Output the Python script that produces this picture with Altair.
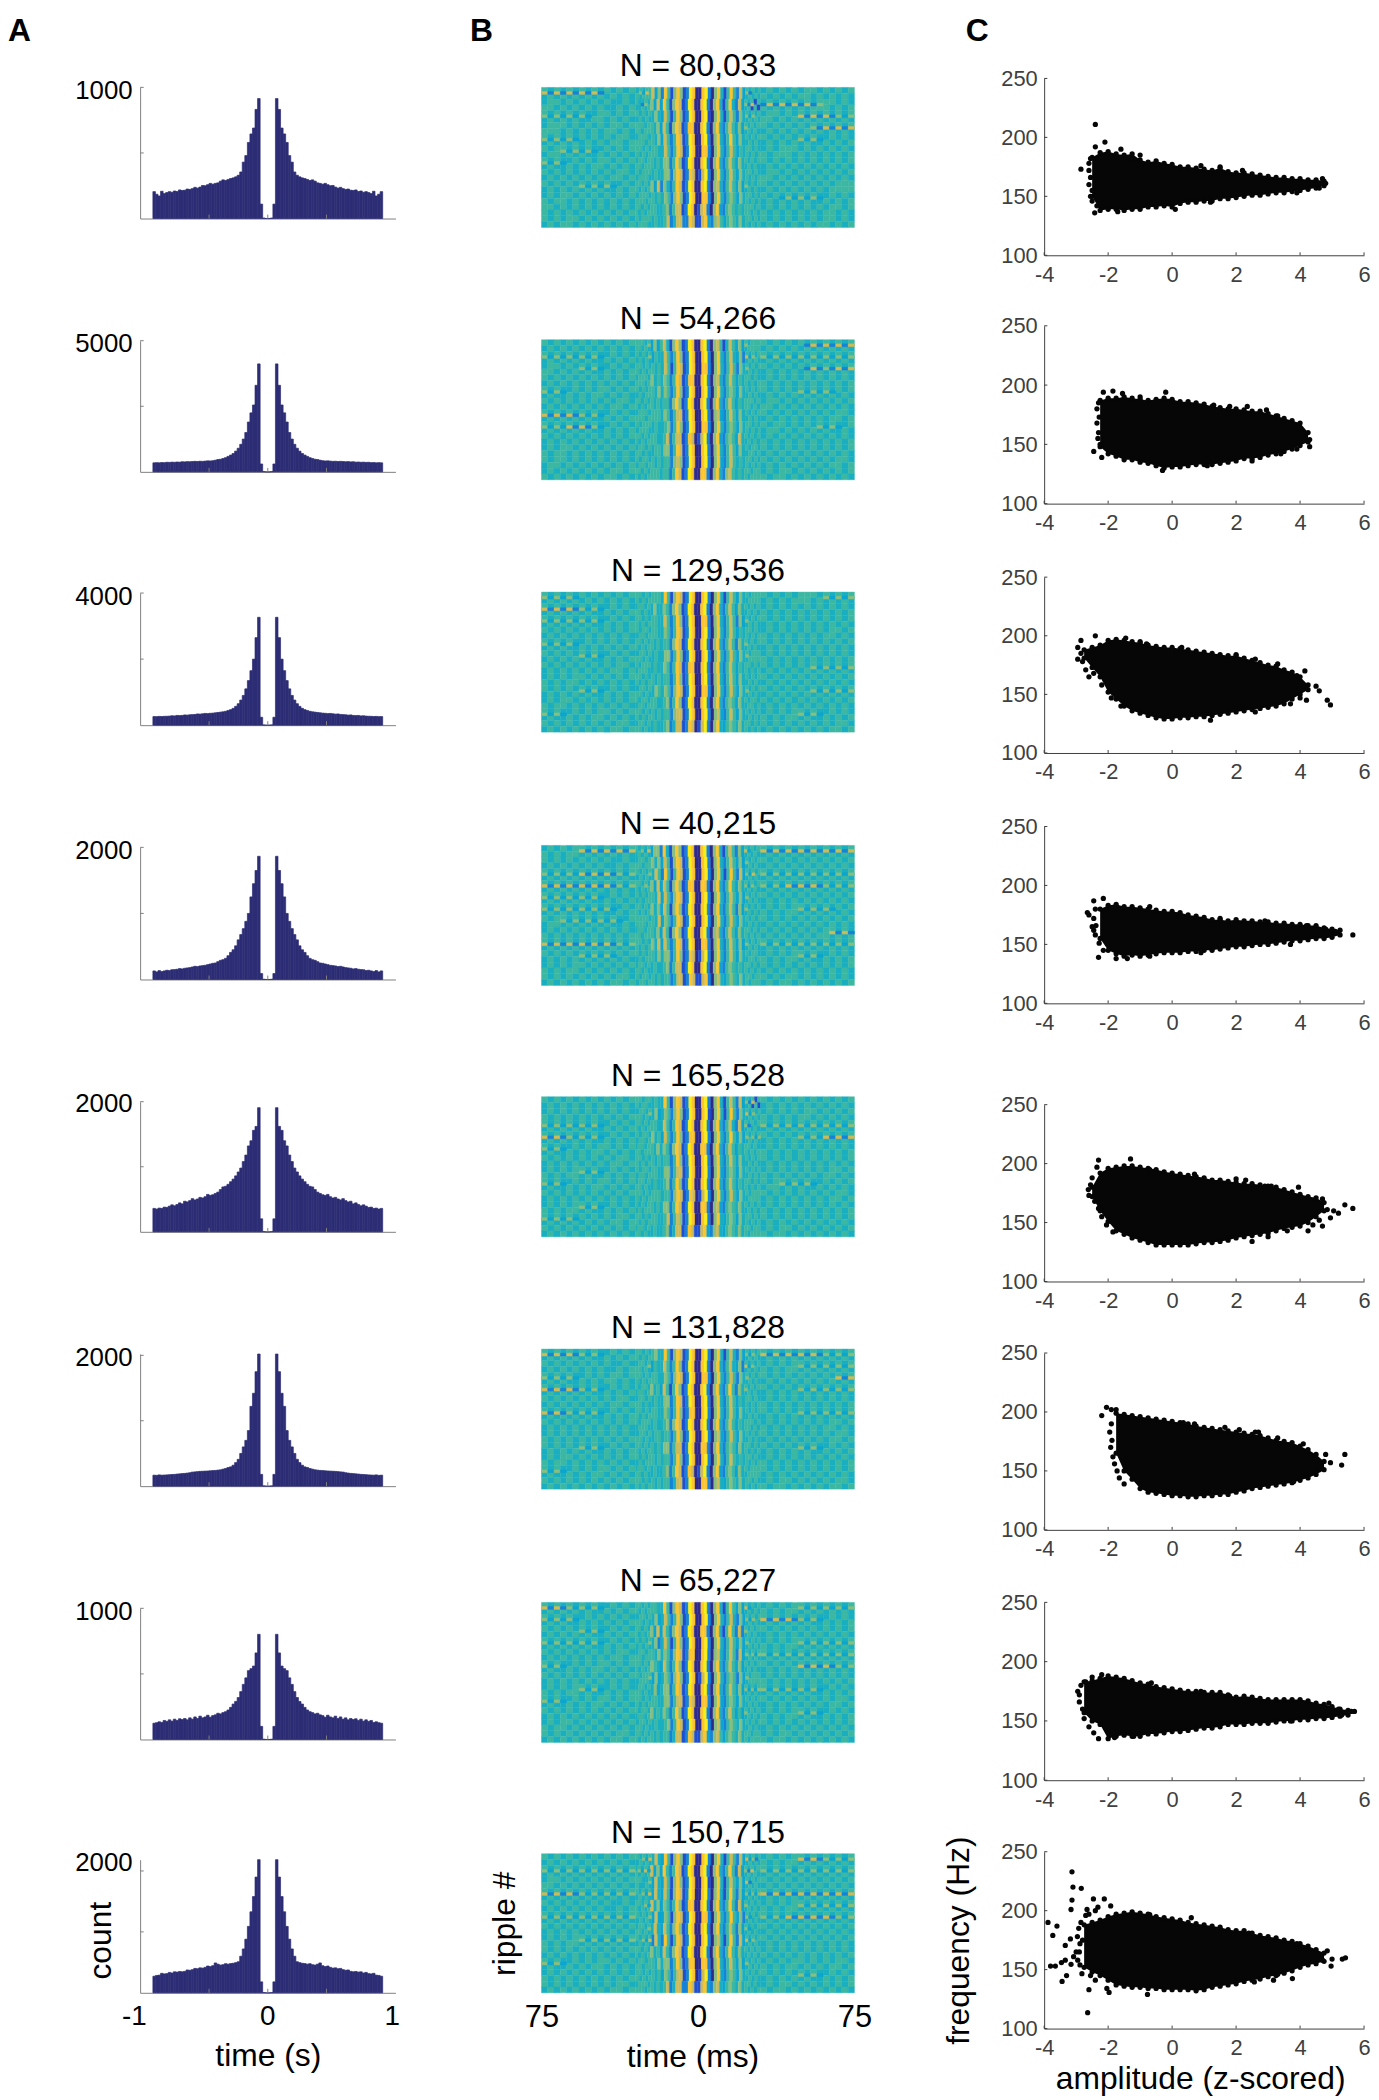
import altair as alt
import pandas as pd

FONT = "Liberation Sans"
ROW_START = [79, 326, 577, 826, 1096, 1348, 1601, 1851]
ROW_FIX = [2, 2, 2, 2, 2, 2, 1]

# ---------- A: spike autocorrelograms (half profile, outward from 0; bins 0.02 s) ----------
A_TOP = [88, 341, 593, 847, 1101, 1353, 1607, 1859]
A_BASE = [220, 473, 726, 980, 1232, 1486, 1739, 1993]
A_TICK = [1000, 5000, 4000, 2000, 2000, 2000, 1000, 2000]
A_DOM = [1000, 5000, 4000, 2000, 2000, 2020, 1000, 2185]
A_LABEL_OFF = [3, 3, 4, 3, 2, 2, 3, -8]
H1 = [0,4,110,915,832, 690,645,580,480,430, 355,330,318,310,305, 298,290,295,285,272, 268,262,268,258,250, 252,240,232,238,228, 222,225,216,214,218, 206,210,200,205,198, 190,208,172,185,205]
H2 = [0,10,300,4116,3300, 2550,2250,1900,1500,1250, 1050,900,790,700,640, 590,540,510,480,470, 445,425,415,420,410, 400,405,395,400,395, 385,390,380,385,370, 375,365,370,360,365, 350,355,345,350,345]
H3 = [0,8,240,3266,2650, 2000,1650,1350,1100,900, 760,650,570,510,470, 445,420,405,395,385, 375,365,360,350,355, 345,335,340,325,320, 315,305,310,295,290, 295,280,285,275,270, 268,262,266,258,261]
H4 = [0,4,90,1865,1650, 1450,1250,1000,880,770, 680,600,510,450,410, 360,320,300,290,270, 250,245,235,225,215, 210,205,195,200,190, 180,175,170,160,165, 155,150,148,135,140, 130,120,135,115,130]
H5 = [0,4,200,1908,1620, 1560,1400,1320,1180,1080, 980,920,860,810,770, 730,700,690,650,610, 590,570,560,575,540, 520,530,505,490,510, 480,460,470,430,445, 420,400,415,395,375, 380,360,365,350,360]
H6 = [0,4,180,2020,1750, 1420,1220,850,700,600, 500,410,360,320,295, 285,270,260,250,245, 240,238,235,232,230, 228,226,222,218,215, 205,200,195,192,188, 185,180,178,175,172, 170,168,172,165,168]
H7 = [0,2,100,802,660, 560,540,525,470,420, 365,320,290,270,245, 225,212,205,195,200, 188,182,170,185,172, 165,178,160,172,155, 165,150,160,152,158, 145,155,140,150,138, 145,130,135,128,124]
H8 = [0,4,180,2185,1900, 1580,1330,1090,880,720, 600,510,495,485,480, 470,478,462,455,470, 490,445,430,440,418, 405,410,395,400,380, 370,375,352,345,350, 340,345,325,335,315, 310,320,290,285,272]
HISTS = [H1, H2, H3, H4, H5, H6, H7, H8]
A_XTICKS = [-0.46, 0, 0.46]
A_XLABEL_POS = [-1.045, 0, 0.975]
A_XLABELS = ["-1", "0", "1"]

# ---------- B: ripple-triggered LFP, digits 0..9 are colour levels ----------
B_TOP = [88, 340, 592, 845, 1096, 1348, 1601, 1853]
B_BOT = [229, 481, 733, 986, 1237, 1489, 1742, 1993]
B_N = ["N = 80,033", "N = 54,266", "N = 129,536", "N = 40,215", "N = 165,528", "N = 131,828", "N = 65,227", "N = 150,715"]
P1 = ["727272727254545|46375736285168612980|08920684158527362545|454545455454545",
"455454545454454|54264637385168712980|08920684158427362715|272727272655454",
"636363634554545|54545464375158612980|08910684157526463645|455454727272636",
"455545454545545|55545546375168712880|08920684257536364545|545454546272727",
"636363545454554|45554546375258712980|08920684258536454545|545454636345454",
"545636363454545|55454554475258712980|08820684257535455454|454555454545454",
"636345454554545|45545545466258612980|08920684257536454545|545454545454545",
"545454545454554|54555454466268712870|17920684257536455454|455454545454545",
"545454636363454|55454637264258712980|08920674257536364545|545454545454555",
"454554545454545|45554545465268612980|08820684256536455454|545363636345454",
"554545454545454|55454554456257712980|17820683256545455545|454545454545545",
"545455454545454|54555454457247722871|17832675356546455454|545454545455454"]
P2 = ["545454545454545|55546363574168612980|08920675147536364555|545454527272727",
"636363636345454|54546354475258612980|08920684257436273645|636363636363636",
"455454636345454|55454545475158712980|08820684257526464545|545454527262727",
"545454545454545|45554645465258712880|08920674257535455454|454545454545454",
"636345454554545|54545546465258612980|08920684256536454545|545454636363545",
"545454545454554|55454545455268612980|08920684257535455545|455454545454545",
"727272636345454|45554555465257712980|08920673257536454545|545454545454554",
"636372726345454|54555454456258612980|08820684256536455454|545545454636345",
"545454545454545|55454554457257712870|17920683256537454545|454545454545454",
"454554545454545|45545455466258712980|08920684257536454554|545454545454545",
"545545454545454|54554545455267612980|08920683257545455454|545454545454554",
"454545454545545|55454555455258712980|08820684267545455455|454554545454545"]
P3 = ["636363545454545|55454555485168712980|08920684157536454555|545454555463636",
"727272636345454|45545464465268612980|08920684257536454545|454545454545454",
"636363636345454|55454554475258612980|08820684257526364545|545454545454545",
"545454545454545|54554554465258712980|08920684257535455454|454545454545545",
"636363454545454|55454545455268712980|08920684257526464545|545454545454545",
"545454636345454|45545454466258612980|08920684257536464555|454545454545454",
"545454545454554|54555454465258712880|08920684257535455454|545454546363636",
"454545545454545|55454545455258612980|08920684257536454545|545454545454545",
"545454636345454|45545465465268712980|08820684257536464545|545454546363636",
"454554545454545|54554554456258612980|08920684256536454554|545454545454545",
"636345454554545|55454545455267712980|08920673257536454545|454545636345454",
"545454545454554|45545454456247712870|17920684356546455454|545454545454554"]
P4 = ["454545727272727|54637366284168612980|08920684157526373545|727272727272727",
"545454545454454|45545646375168712980|08920684257536364545|545454545454545",
"636363727272636|54546475285158712980|08920684158527363745|636363636363636",
"727272727272636|55464637375168612880|08820684258536463645|636372727263636",
"636363636345454|54545547375268712980|08920684257536364545|545454545454545",
"636363636363454|55454646375168612980|08920684257526364545|454545636363545",
"545636363636345|55554547365258712980|08920684257536454545|545454545454545",
"454545454545454|45545546375168612980|08920674257536455454|545454545457272",
"727272727272636|55454647375258712980|08820684257536364545|636363636363636",
"545454636363545|54545546466258612870|17920684257536454554|454545636345454",
"454545545454545|45545454456257712980|08920683256545455454|545454545454545",
"545454545454554|54554545455247712871|17820674356546455455|545455454545454"]
P5 = ["545454545454545|55455454485168712980|08920684157527362715|545454545454545",
"454545454545454|45546463465268612980|08910684158526473645|454545455454545",
"636363636345454|55454554475258712980|08920684257427362545|636363636363636",
"727263636345454|54554645375258612880|08920684258536364636|545454636372727",
"636345454554545|45545546465268712980|08820684257535455454|454545454545454",
"545454545454554|55454545455258612980|08920684257536454545|545454545454545",
"454545636345454|54554554466257712980|08920683256536454545|454545454545545",
"636345454554545|45545454456258612980|08920684257535455454|545636363454545",
"545454545454545|55454555455268712870|17920684257536454555|545454545454554",
"454545636345454|54545545466258712980|08820673256546454545|454545454545454",
"636363545454554|55454554457257612980|08920684356536455454|545454545454545",
"545454545454545|45545454456247712871|17832674356546455455|454554545454545"]
P6 = ["727272636345454|55454564485168712980|08920684157426363645|727272727263636",
"545454545454454|45546354475258612980|08920684257436273645|454545636363636",
"636363454545545|55454554465268712980|08820684257526464545|545454545454727",
"727272636345454|54554645375158612980|08920684258526464545|545454636363636",
"545454545454554|45545454466258712980|08920684257535455454|454545454545454",
"727263636345454|55454554465258612880|08920684257536454545|545454636363636",
"545454545454545|54555454456268712980|08920684257535455545|454545454545545",
"454545454545454|45545455455258612980|08920673257536454545|545454545454554",
"545454636345454|55454545466257712980|08820684256536455454|545454636345454",
"454554545454545|54545545455258612980|08920684257545455454|454545454545454",
"636345454554545|45545454456258712870|17920683256536454555|545454545454545",
"545454545454545|55454545455247712980|08820674356546455454|454554545454554"]
P7 = ["727263636345454|55454554485168712980|08920684158536373545|454545636363636",
"636363454545454|45545463475258612980|08920684257426363645|727272636345454",
"545454636345454|55454637375268712980|08820684158527264545|545454545454545",
"636363636345454|54546462475158612980|08920684257536364545|454545636363636",
"545454545454554|45545546465268712880|08920674257527364636|636363636363636",
"636345454554545|55454654375258612980|08920684257536354545|545454727272636",
"545454545454545|54556363465268612980|17920684256526364555|454545454545454",
"454545636345454|45545463466258712980|08920684257536363636|636363636345454",
"636345454554545|55454554466257712870|08820683256536454545|545454545454554",
"545454545454545|54554645465258612980|08920684257535364545|454545636345454",
"454554545454545|45545454456258712980|08920673256546454545|545454545454545",
"545454545454554|55454545455247712871|17832675356546455455|454554545454545"]
P8 = ["545454545454545|54637474385168612980|08920684157527373625|454545727263636",
"636363636363636|46373736385258712980|08920684258527362745|636363636363636",
"455454545454545|55446374375168612980|08910684157536372545|545454545454545",
"727272636363636|54637374375168712980|08920684158526363636|727272727272727",
"545454545454454|55463746365258612880|08920684258527364545|454545636363636",
"636363636363636|54546373365168712980|08820684258536263545|636372727272636",
"545454545454545|45546474375268612980|08920684257526363545|545454545454545",
"454545636363636|54637274285158712980|08920674158527373645|545454545454545",
"545454545454545|55454645375268712980|08920684258536454545|454545454545454",
"636345454554545|45545546466258612880|08820684257536364545|454545545454554",
"454545454545454|55454545365257712980|17920683256536454545|545454636345454",
"545454545454554|45554545457247722871|17832674356546455454|454554545454545"]
PANELS = [P1, P2, P3, P4, P5, P6, P7, P8]
WOBBLE = [[.3,-.2,.2,-.3,.1,.3,-.2,.2,-.1,.3,-.3,.1],
 [-.2,.2,.3,-.1,.2,-.3,.1,.3,-.2,.1,.2,-.3],
 [.2,-.3,.1,.2,-.2,.3,-.1,.1,.3,-.2,.2,-.1],
 [-.3,.1,.3,-.2,.2,-.1,.3,-.3,.1,.2,-.2,.3],
 [.1,.3,-.2,.2,-.3,.1,.2,-.1,.3,-.2,.1,-.3],
 [.2,-.1,.3,-.3,.1,.2,-.2,.3,-.1,.2,-.3,.1],
 [-.1,.3,-.3,.2,.1,-.2,.3,-.1,.2,-.3,.3,-.2],
 [.3,-.3,.2,.1,-.2,.3,-.1,.2,-.3,.1,.3,-.2]]
SEG_EDGES = [-75, -30, 0, 30, 75]
LEVELS = list("0123456789")
PARULA = ["#2e2a8c", "#1f4fd0", "#1583d8", "#0aa5d0", "#1aafc0", "#3cb8a2", "#86bf80", "#cdbb5a", "#fcc52e", "#f9ee12"]
FLANK_BASE = {"2": "4", "3": "4", "6": "5", "7": "5"}

# ---------- C: frequency vs amplitude ----------
C_TOP = [79, 326, 577, 826, 1104, 1352, 1601, 1851]
C_BOT = [257, 505, 754, 1004, 1282, 1530, 1780, 2029]
C_START = [-2.5, -2.25, -2.75, -2.25, -2.5, -1.75, -2.75, -2.75]
U1 = [183,187,188,186,185,186,181,179,180,178,177,175,175,174,173,172,174,171,170,170,169,168,167,166,166,165,165,164,164,163]
L1 = [150,138,139,139,138,139,139,141,141,142,141,144,145,145,146,146,148,148,149,150,151,151,152,153,153,154,155,156,157,159]
U2 = [187,189,189,190,189,188,187,188,189,188,186,186,185,184,182,181,180,180,179,178,178,176,174,172,170,168,160]
L2 = [148,142,140,137,137,135,134,132,130,131,131,132,133,133,133,134,135,136,138,138,139,141,142,144,146,149,152]
U3 = [188,190,192,196,197,196,195,194,192,191,190,190,189,188,187,186,185,184,183,183,181,179,177,175,174,171,169,165,158]
L3 = [181,173,165,152,146,140,136,134,132,130,129,129,130,130,131,131,132,133,134,135,136,137,138,139,140,142,146,150,154]
U4 = [180,183,184,182,182,181,180,179,178,178,177,175,174,173,171,171,170,171,170,170,169,169,168,168,167,167,166,166,164,163,162]
L4 = [155,145,142,140,141,140,141,142,143,143,143,144,144,145,145,146,147,148,148,149,150,150,151,152,153,153,154,155,155,156,158]
U5 = [180,192,196,197,198,198,197,196,195,193,192,191,190,189,188,186,186,185,184,183,183,182,181,180,178,176,174,172,171,167]
L5 = [172,160,151,143,140,137,135,133,131,131,131,131,131,132,133,133,134,135,137,138,139,140,141,143,145,146,147,150,155,160]
U6 = [199,198,197,196,195,194,193,192,191,190,188,187,186,185,184,183,182,181,180,178,176,175,174,171,168,164,158]
L6 = [165,150,143,135,132,131,130,129,129,128,128,129,129,130,130,132,133,135,136,137,138,139,140,142,144,147,151]
U7 = [183,184,186,188,187,186,184,182,181,179,178,177,176,175,175,174,174,174,172,170,171,170,169,168,168,168,168,168,167,165,164,162,160,159]
L7 = [157,150,147,135,137,138,137,137,139,139,140,141,141,142,143,144,144,145,147,147,147,148,148,148,149,150,150,151,151,152,152,153,154,155]
U8 = [188,190,192,195,197,198,199,198,197,195,194,193,192,190,189,188,187,186,184,183,183,181,179,178,177,175,174,172,170,167,164]
L8 = [152,148,145,141,137,136,135,135,134,134,133,133,133,133,132,133,135,136,137,138,140,141,142,144,145,147,149,152,154,155,157]
UPPER = [U1, U2, U3, U4, U5, U6, U7, U8]
LOWER = [L1, L2, L3, L4, L5, L6, L7, L8]
OUT = [
 [(-2.85,173),(-2.6,178),(-2.4,211),(-2.4,192),(-2.1,196),(-1.6,190),(-1,185),(-2.42,136),(1.5,175),(4.8,161),
  (-2.55,182),(-2.6,172),(-2.55,166),(-2.6,160),(-2.5,155),(-2.55,150),(-2.5,146),(-2.35,142),(-1.2,181),(-.6,176),(.9,176),(2.2,172),(-1.7,137),(.1,139),(1.2,145),(3.9,153),(4.6,157),(4.7,165)],
 [(-2.45,144),(-2.2,139),(-2.15,194),(-1.85,195),(-1.55,193),(-.2,194),(2.35,182),(2.95,179),(4.3,154),(4.3,148),
  (-2.3,185),(-2.35,180),(-2.28,173),(-2.35,168),(-2.3,160),(-2.32,155),(-2.25,150),(-1,190),(1.3,183),(1.8,182),(3.3,174),(-.3,128),(1.1,132),(2.5,136),(3.4,142),(3.9,146)],
 [(-2.95,190),(-2.95,180),(-2.85,196),(-2.4,200),(-2.7,171),(-2.6,165),(-1.45,198),(-1,195),(1.2,128),(2,184),(4.15,170),(4.5,157),(4.6,153),(4.85,145),(4.95,141),(4.2,145),
  (-2.85,185),(-2.8,178),(-2.45,168),(-2.2,158),(-1.9,147),(-1.6,140),(-.8,193),(.3,190),(2.6,180),(3.3,176),(3.9,166),(4,147),(3.7,142),(2.6,135)],
 [(-2.65,177),(-2.6,175),(-2.45,187),(-2.15,189),(-2.5,165),(-2.45,162),(-2.3,139),(-1.75,138),(-1.4,138),(-.7,182),(5.65,158),(3.7,150),
  (-2.4,180),(-2.45,172),(-2.38,166),(-2.4,158),(-2.28,151),(-2.15,145),(1.5,172),(2.9,170),(4.2,166),(4.8,163),(5.1,161),(-.7,140),(.9,143)],
 [(-2.6,173),(-2.55,182),(-2.3,203),(-2.35,197),(-1.3,204),(.7,191),(2,187),(2.3,186),(3.95,180),(4.7,170),(5.05,160),(5.4,165),(5.65,162),(4.95,154),(4.7,147),(4.25,143),(4.4,148),(3.6,143),(2.5,134),(5.2,158),
  (-2.62,178),(-2.5,188),(-2.42,168),(-2.3,162),(-2.2,155),(-2.05,148),(-1.85,142),(-.7,195),(2.9,181),(3.1,181),(4.85,161),(4.6,152),(3,138)],
 [(-2.2,197),(-2.05,204),(-1.9,202),(-1.75,202),(.35,191),(.7,190),(1.65,187),(2.1,185),(2.6,183),(2.7,183),(4.8,164),(4.95,157),(5.4,164),(5.3,155),(3.8,141),(4.2,147),
  (-1.9,190),(-1.95,183),(-1.88,176),(-1.92,170),(-1.85,162),(-1.8,156),(-1.72,150),(-1.65,144),(-1.5,139),(4.1,173),(4.6,151),(3.3,178)],
 [(-2.9,166),(-2.9,172),(-2.7,183),(-2.2,189),(-2.3,135),(-.65,182),(5.6,158),(5.7,158),(3.7,150),
  (-2.95,175),(-2.85,180),(-2.8,160),(-2.75,152),(-2.6,145),(-2.45,140),(-1.8,136),(-1.2,137),(-2.5,187),(.9,175),(1.8,171),(4.9,165),(5.2,160),(5.3,155)],
 [(-3.13,233),(-3.1,220),(-2.84,219),(-3.13,209),(-3.16,201),(-2.66,201),(-2.46,210),(-2.12,210),(-2.32,203),(-1.92,204),(-3.88,190),(-3.6,187),(-3.73,179),(-3.34,170.5),(-3.18,176),(-3.8,153),(-3.65,153),(-3.46,156),(-3.34,158),(-3.16,154.5),(-3.44,140),(-3.3,145),(-3.08,161),(-2.82,146.6),(-2.6,133),(-2.64,113.5),(-2.04,134),(-1.97,130.6),(-.77,129),(.6,194),(-.7,196.6),(4.85,166),(4.97,153),(5.42,160),(5.32,159),(5,159),(3.17,141),(3.76,142.4),(2.57,139.6),(4.7,158),(-2.8,175),(-2.9,165),(-2.85,190),(-3,165),(-2.6,197),
  (-2.92,185),(-2.96,178),(-2.88,172),(-2.95,158),(-2.88,154),(-2.7,196),(-2.4,200),(-2.55,145),(-2.4,141),(2.4,181),(3.9,172),(3.3,146)],
]
C_XT = [-4, -2, 0, 2, 4, 6]
C_YT = [100, 150, 200, 250]

NAVY = "#2c2d74"
GRAY = "#808080"
DARK = "#404040"
W_A, W_B, W_C = 404, 506, 322
LETTER_SIZE = 32
TITLE_SIZE = 32
HYPHEN = "datum.value < 0 ? '-' + abs(datum.value) : '' + datum.value"


def letter(ch, dx):
    return alt.Chart(pd.DataFrame({"t": [ch]})).mark_text(
        align="left", baseline="alphabetic", fontSize=LETTER_SIZE, fontWeight="bold", font=FONT, color="black"
    ).encode(x=alt.value(dx), y=alt.value(-38), text="t:N")


def panel_a(i):
    y0 = ROW_START[i]
    h = A_BASE[i] - y0
    t = A_TOP[i] - y0
    xs = alt.Scale(domain=[-1, 1], range=[0, 257], nice=False, zero=False)
    ys = alt.Scale(domain=[0, A_DOM[i]], range=[h, t], nice=False, zero=False)
    hv = HISTS[i]
    rows = []
    for k, v in enumerate(hv):
        a = k * 0.02
        rows.append({"x0": a, "x1": a + 0.02, "v": v})
        rows.append({"x0": -a - 0.02, "x1": -a, "v": v})
    last = i == 7
    xax = alt.Axis(values=[], labels=False, ticks=False, grid=False, domainColor=GRAY,
                   title="time (s)" if last else None, titleFontSize=TITLE_SIZE, titleFontWeight="normal",
                   titleFont=FONT, titleColor="black", titlePadding=48)
    yax = alt.Axis(values=[A_TICK[i]], ticks=False, grid=False, domainColor=GRAY, labelFontSize=26, labelColor="black",
                   labelPadding=8, labelOffset=A_LABEL_OFF[i], labelFont=FONT, format="d",
                   title="count" if last else None, titleFontSize=TITLE_SIZE, titleFontWeight="normal",
                   titleFont=FONT, titleColor="black", **({"titleX": -23, "titleY": 89} if last else {}))
    bars = alt.Chart(pd.DataFrame(rows)).mark_rect(color=NAVY, stroke=NAVY, strokeWidth=0.7).encode(
        x=alt.X("x0:Q", scale=xs, axis=xax), x2="x1:Q",
        y=alt.Y("v:Q", scale=ys, axis=yax), y2=alt.datum(0))
    yt = alt.Chart(pd.DataFrame({"v": [A_TICK[i] / 2, A_TICK[i]], "a": [-1, -1], "b": [-0.972, -0.972]})).mark_rule(color=GRAY).encode(
        x=alt.X("a:Q", scale=xs), x2="b:Q", y=alt.Y("v:Q", scale=ys))
    xt = alt.Chart(pd.DataFrame({"v": A_XTICKS, "a": [0, 0, 0], "b": [A_DOM[i] * 0.03] * 3})).mark_rule(color=GRAY).encode(
        x=alt.X("v:Q", scale=xs), y=alt.Y("a:Q", scale=ys), y2="b:Q")
    layers = [bars, yt, xt]
    if i == 0:
        layers.append(letter("A", -133))
    if last:
        layers.append(alt.Chart(pd.DataFrame({"p": A_XLABEL_POS, "s": A_XLABELS})).mark_text(
            baseline="middle", align="center", fontSize=28, font=FONT, color="black"
        ).encode(x=alt.X("p:Q", scale=xs), y=alt.value(h + 24), text="s:N"))
    return alt.layer(*layers).properties(width=W_A, height=h)


def panel_b(i):
    y0 = ROW_START[i]
    last = i == 7
    h = (B_BOT[i] - y0) if last else (ROW_START[i + 1] - y0 + ROW_FIX[i])
    top, bot = B_TOP[i] - y0, B_BOT[i] - y0
    xs = alt.Scale(domain=[-75, 75], range=[0, 315], nice=False, zero=False)
    ys = alt.Scale(domain=[0, 12], range=[bot, top], nice=False, zero=False)
    rows = []
    strips = []
    for r, line in enumerate(PANELS[i]):
        wob = WOBBLE[i][r]
        for s, seg in enumerate(line.split("|")):
            a, b = SEG_EDGES[s], SEG_EDGES[s + 1]
            w = (b - a) / len(seg)
            for c, ch in enumerate(seg):
                x0, x1 = a + c * w, a + (c + 1) * w
                if s == 1:
                    x1 += wob
                    x0 += wob if c > 0 else 0
                if s == 2:
                    x0 += wob
                    x1 += wob if c < len(seg) - 1 else 0
                outer = s in (0, 3) or (s == 1 and c <= 4) or (s == 2 and c >= 15)
                if outer:
                    nxt = seg[c + 1] if c + 1 < len(seg) else seg[c - 1]
                    rows.append({"x0": x0, "x1": x1, "y0": 12 - r, "y1": 11.5 - r, "v": FLANK_BASE.get(ch, ch)})
                    rows.append({"x0": x0, "x1": x1, "y0": 11.5 - r, "y1": 11 - r, "v": FLANK_BASE.get(nxt, nxt)})
                    if ch in FLANK_BASE:
                        strips.append({"x0": x0, "x1": x1, "y0": 11.65 - r, "y1": 11.4 - r, "v": ch})
                else:
                    rows.append({"x0": x0, "x1": x1, "y0": 12 - r, "y1": 11 - r, "v": ch})
    rows += strips
    xax = (alt.Axis(values=[-75, 0, 75], labelExpr="abs(datum.value)", ticks=False, domain=False, grid=False,
                    labelFontSize=31, labelColor="black", labelPadding=10, labelFlush=False, labelFont=FONT,
                    title="time (ms)", titleFontSize=TITLE_SIZE, titleFontWeight="normal", titleFont=FONT,
                    titleColor="black", titlePadding=9, titleX=152) if last else None)
    yax = (alt.Axis(labels=False, ticks=False, domain=False, grid=False, title="ripple #", titleFontSize=TITLE_SIZE,
                    titleFontWeight="normal", titleFont=FONT, titleColor="black", titlePadding=20) if last else None)
    cells = alt.Chart(pd.DataFrame(rows)).mark_rect(strokeWidth=0.4).encode(
        x=alt.X("x0:Q", scale=xs, axis=xax), x2="x1:Q",
        y=alt.Y("y0:Q", scale=ys, axis=yax), y2="y1:Q",
        fill=alt.Fill("v:N", scale=alt.Scale(domain=LEVELS, range=PARULA), legend=None),
        stroke=alt.Stroke("v:N", scale=alt.Scale(domain=LEVELS, range=PARULA), legend=None))
    lab = alt.Chart(pd.DataFrame({"t": [0], "s": [B_N[i]]})).mark_text(
        baseline="alphabetic", align="center", fontSize=32, font=FONT, color="black"
    ).encode(x=alt.X("t:Q", scale=xs), y=alt.value(top - 11), text="s:N")
    layers = [cells, lab]
    if i == 0:
        layers.append(letter("B", -72))
    return alt.layer(*layers).properties(width=W_B, height=h)


def panel_c(i):
    y0 = ROW_START[i]
    h = C_BOT[i] - y0
    t = C_TOP[i] - y0
    xs = alt.Scale(domain=[-4, 6], range=[0, 322], nice=False, zero=False)
    ys = alt.Scale(domain=[100, 250], range=[h, t], nice=False, zero=False)
    last = i == 7
    amp = [C_START[i] + 0.25 * k for k in range(len(UPPER[i]))]
    xax = alt.Axis(values=C_XT, ticks=False, grid=False, domainColor=DARK, labelFontSize=22, labelColor=DARK,
                   labelPadding=9, labelFlush=False, labelFont=FONT, labelExpr=HYPHEN,
                   title="amplitude (z-scored)" if last else None, titleFontSize=TITLE_SIZE, titleFontWeight="normal",
                   titleFont=FONT, titleColor="black", titlePadding=5, **({"titleX": 157} if last else {}))
    yax = alt.Axis(values=C_YT, ticks=False, grid=False, domainColor=DARK, labelFontSize=22, labelColor=DARK,
                   labelPadding=7, labelFont=FONT, format="d",
                   title="frequency (Hz)" if last else None, titleFontSize=TITLE_SIZE, titleFontWeight="normal",
                   titleFont=FONT, titleColor="black", titlePadding=25)
    blob = alt.Chart(pd.DataFrame({"a": amp, "u": UPPER[i], "l": LOWER[i]})).mark_area(color="#060606").encode(
        x=alt.X("a:Q", scale=xs, axis=xax), y=alt.Y("u:Q", scale=ys, axis=yax), y2="l:Q")
    edge_u = alt.Chart(pd.DataFrame({"a": amp, "v": UPPER[i]})).mark_circle(size=28, color="#060606", opacity=1).encode(
        x=alt.X("a:Q", scale=xs), y=alt.Y("v:Q", scale=ys))
    edge_l = alt.Chart(pd.DataFrame({"a": amp, "v": LOWER[i]})).mark_circle(size=28, color="#060606", opacity=1).encode(
        x=alt.X("a:Q", scale=xs), y=alt.Y("v:Q", scale=ys))
    out = alt.Chart(pd.DataFrame(OUT[i], columns=["a", "v"])).mark_circle(size=28, color="#060606", opacity=1).encode(
        x=alt.X("a:Q", scale=xs), y=alt.Y("v:Q", scale=ys))
    yt = alt.Chart(pd.DataFrame({"v": C_YT, "a": [-4] * 4, "b": [-3.9] * 4})).mark_rule(color=DARK).encode(
        x=alt.X("a:Q", scale=xs), x2="b:Q", y=alt.Y("v:Q", scale=ys))
    xt = alt.Chart(pd.DataFrame({"v": C_XT, "a": [100] * 6, "b": [102.5] * 6})).mark_rule(color=DARK).encode(
        x=alt.X("v:Q", scale=xs), y=alt.Y("a:Q", scale=ys), y2="b:Q")
    layers = [blob, edge_u, edge_l, out, yt, xt]
    if i == 0:
        layers.append(letter("C", -79))
    return alt.layer(*layers).properties(width=W_C, height=h)


cells = []
for i in range(8):
    cells += [panel_a(i), panel_b(i), panel_c(i)]

chart = alt.concat(*cells, columns=3, spacing=0, bounds="flush").properties(padding=0).configure_view(stroke=None)
chart.save("out.html", embed_options={"renderer": "svg", "actions": False})
